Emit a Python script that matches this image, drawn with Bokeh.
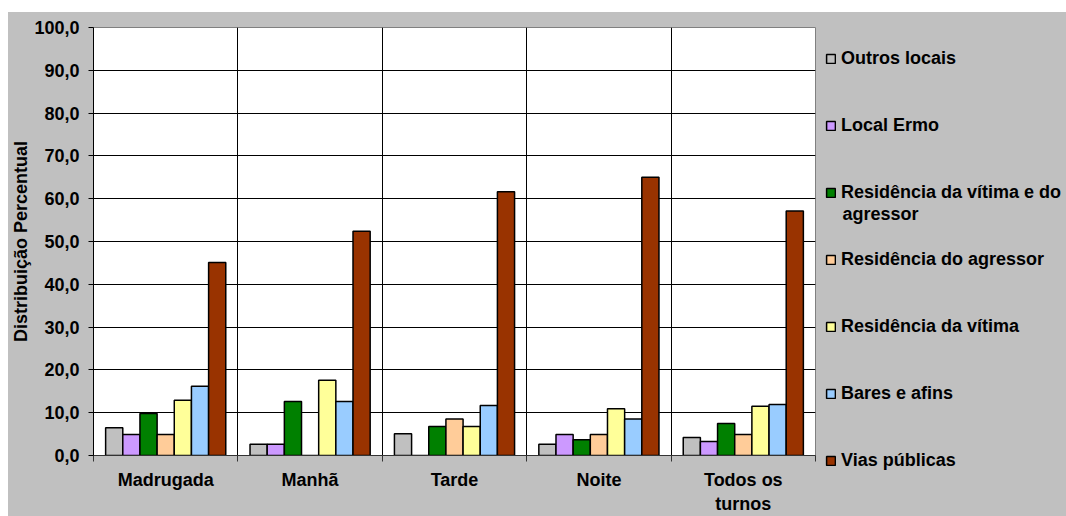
from bokeh.plotting import figure
from bokeh.models import (Range1d, FixedTicker, Legend, LegendItem, Label, Spacer)
from bokeh.layouts import column, row
from bokeh.embed import file_html
from bokeh.resources import INLINE

# Turnos (categories on the x axis)
turnos = ["Madrugada", "Manhã", "Tarde", "Noite", "Todos os\nturnos"]

# Percentual distribution per place of occurrence, one value per turno
outros_locais = [6.5, 2.6, 5.1, 2.6, 4.2]
local_ermo = [4.9, 2.6, 0.0, 4.9, 3.3]
res_vitima_agressor = [9.8, 12.6, 6.8, 3.7, 7.5]
res_agressor = [4.9, 0.0, 8.5, 4.9, 4.9]
res_vitima = [12.9, 17.6, 6.8, 10.9, 11.5]
bares = [16.2, 12.6, 11.7, 8.5, 11.9]
vias_publicas = [45.1, 52.4, 61.6, 65.0, 57.1]

series_names = ["Outros locais", "Local Ermo", "Residência da vítima e do",
                "Residência do agressor", "Residência da vítima",
                "Bares e afins", "Vias públicas"]
series_values = [outros_locais, local_ermo, res_vitima_agressor, res_agressor,
                 res_vitima, bares, vias_publicas]
series_colors = ["#C0C0C0", "#CC99FF", "#008000", "#FFCC99", "#FFFF99",
                 "#99CCFF", "#993300"]

y_ticks = [0, 10, 20, 30, 40, 50, 60, 70, 80, 90, 100]

FONT = "Liberation Sans"
BG = "#C0C0C0"
BAR_LINE = dict(line_color="black", line_width=1.5)

# ---------------- chart ----------------
p = figure(width=808, height=504, output_backend="svg", toolbar_location=None,
           x_range=Range1d(0, 5), y_range=Range1d(0, 100),
           min_border_left=83, min_border_right=1, min_border_top=15,
           min_border_bottom=60)
p.frame_align = False
p.border_fill_color = BG
p.background_fill_color = "white"
p.outline_line_color = "#808080"
p.outline_line_width = 1

# grouped bars: 7 series side by side inside each turno slot
n = len(series_names)
group_frac = 0.832
bar_w = group_frac / n
for j, (vals, col) in enumerate(zip(series_values, series_colors)):
    xs = [i + 0.5 + (j - (n - 1) / 2) * bar_w for i in range(len(turnos))]
    p.vbar(x=xs, top=vals, width=bar_w, bottom=0, fill_color=col, **BAR_LINE)

# y axis
yax = p.yaxis[0]
yax.ticker = FixedTicker(ticks=y_ticks)
yax.major_label_overrides = {t: f"{t:.1f}".replace(".", ",") for t in y_ticks}
yax.minor_tick_line_color = None
yax.major_tick_in = 0
yax.major_tick_out = 5
yax.major_tick_line_color = "black"
yax.axis_line_color = "black"
yax.major_label_standoff = 9
yax.major_label_text_font = FONT
yax.major_label_text_font_style = "bold"
yax.major_label_text_font_size = "18px"
yax.major_label_text_color = "black"
yax.axis_label = "Distribuição Percentual"
yax.axis_label_text_font = FONT
yax.axis_label_text_font_style = "bold"
yax.axis_label_text_font_size = "18px"
yax.axis_label_text_color = "black"
yax.axis_label_standoff = 0

# x axis: labels at slot centres, tick marks at slot boundaries
xax = p.xaxis[0]
centers = [i + 0.5 for i in range(len(turnos))]
xax.ticker = FixedTicker(ticks=centers, minor_ticks=list(range(len(turnos) + 1)))
xax.major_label_overrides = {c: t for c, t in zip(centers, turnos)}
xax.major_tick_in = 0
xax.major_tick_out = 0
xax.minor_tick_in = 0
xax.minor_tick_out = 6
xax.minor_tick_line_color = "#333333"
xax.axis_line_color = "#333333"
xax.major_label_standoff = 8
xax.major_label_text_font = FONT
xax.major_label_text_font_style = "bold"
xax.major_label_text_font_size = "18px"
xax.major_label_text_color = "black"

# grid lines
p.ygrid.ticker = FixedTicker(ticks=y_ticks[1:-1])
p.ygrid.grid_line_color = "black"
p.ygrid.grid_line_width = 1
p.xgrid.ticker = FixedTicker(ticks=list(range(1, len(turnos))))
p.xgrid.grid_line_color = "black"
p.xgrid.grid_line_width = 1

# ---------------- legend panel ----------------
lg = figure(width=250, height=504, output_backend="svg", toolbar_location=None,
            x_range=Range1d(0, 250), y_range=Range1d(504, 0),
            x_axis_location=None, y_axis_location=None, min_border=0)
lg.frame_align = False
lg.border_fill_color = BG
lg.background_fill_color = BG
lg.outline_line_color = None
lg.grid.visible = False

# swatch-only renderers for the legend (no drawable data)
nan = float("nan")
items = []
for name, col in zip(series_names, series_colors):
    r = lg.vbar(x=[nan], top=[nan], bottom=[nan], width=1, fill_color=col, **BAR_LINE)
    items.append(LegendItem(label=name, renderers=[r]))

legend = Legend(items=items, location=(9, 45))
legend.background_fill_alpha = 0
legend.border_line_color = None
legend.padding = 0
legend.margin = 0
legend.spacing = 46
legend.label_height = 21
legend.glyph_height = 11
legend.glyph_width = 11
legend.label_standoff = 5
legend.label_text_font = FONT
legend.label_text_font_style = "bold"
legend.label_text_font_size = "18px"
legend.label_text_color = "black"
lg.add_layout(legend)

# second line of the long legend entry
lg.add_layout(Label(x=26, y=201, text="agressor", text_font=FONT,
                    text_font_style="bold", text_font_size="18px",
                    text_color="black", text_baseline="middle", text_align="left"))

panel = row(p, lg, styles={"background-color": BG})
layout = column(Spacer(height=12), row(Spacer(width=8), panel))

open("out.html", "w").write(file_html(layout, INLINE))
